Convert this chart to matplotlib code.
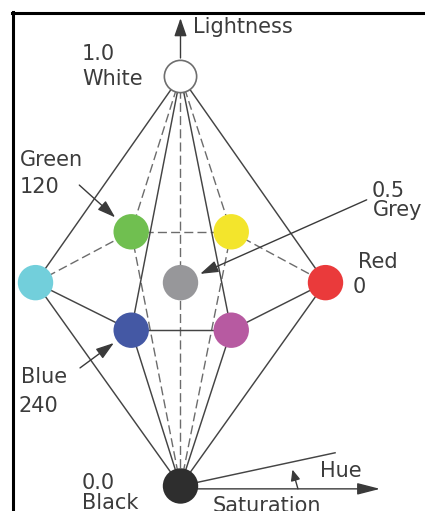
import matplotlib
matplotlib.use('Agg')
import matplotlib.pyplot as plt
from matplotlib.patches import FancyArrowPatch
from matplotlib.lines import Line2D

# HSL double hexcone, drawn in (hue plane x, lightness) coordinates.
# x: projected position in the hue plane (red = +1, cyan = -1)
# lightness: 0 black .. 1 white, depth: oblique offset of the back/front corners
names = ['White', 'Black', 'Grey', 'Red', 'Yellow', 'Green', 'Cyan', 'Blue', 'Magenta']
node_x = [0.0, 0.0, 0.0, 1.0, 0.35, -0.34, -1.0, -0.34, 0.35]
lightness = [1.0, 0.0, 0.5, 0.5, 0.5, 0.5, 0.5, 0.5, 0.5]
depth = [0.0, 0.0, -0.004, -0.004, 0.12, 0.12, -0.004, -0.12, -0.12]
colors = ['#ffffff', '#2e2e2e', '#97979a', '#ea3a3b', '#f3e52c',
          '#70bf50', '#72cfdb', '#4458a4', '#b75aa1']

solid_edges = [('White', 'Cyan'), ('White', 'Blue'), ('White', 'Magenta'), ('White', 'Red'),
               ('Black', 'Cyan'), ('Black', 'Blue'), ('Black', 'Magenta'), ('Black', 'Red'),
               ('Cyan', 'Blue'), ('Blue', 'Magenta'), ('Magenta', 'Red')]
dashed_edges = [('White', 'Green'), ('White', 'Yellow'), ('White', 'Black'),
                ('Black', 'Green'), ('Black', 'Yellow'),
                ('Cyan', 'Green'), ('Green', 'Yellow'), ('Yellow', 'Red')]

# hue line angle end point and saturation axis end (same coordinates)
hue_end = (1.066, 0.081)
sat_end = 1.376
sat_y = -0.007

pos = {n: (x, l + d) for n, x, l, d in zip(names, node_x, lightness, depth)}

ink = '#3c3c3c'
plt.rcParams['font.family'] = ['DejaVu Sans']
fs = 15

fig = plt.figure(figsize=(4.25, 5.11), dpi=100)
ax = fig.add_axes([0, 0, 1, 1])
ax.set_xlim(-1.2448, 1.6862)
ax.set_ylim(-0.061, 1.1854)
ax.axis('off')

# frame (top and left only)
fig.add_artist(Line2D([12 / 425, 1], [1 - 13.5 / 511] * 2, color='black', lw=2.2,
                      transform=fig.transFigure))
fig.add_artist(Line2D([13.5 / 425] * 2, [0, 1 - 12 / 511], color='black', lw=2.2,
                      transform=fig.transFigure))

for a, b in solid_edges:
    ax.plot([pos[a][0], pos[b][0]], [pos[a][1], pos[b][1]], color='#444444', lw=1.05, zorder=2)
for a, b in dashed_edges:
    ax.plot([pos[a][0], pos[b][0]], [pos[a][1], pos[b][1]], color='#6c6c6c', lw=1.0,
            dashes=(6.5, 3), zorder=1)

# hue and saturation
ax.plot([0, hue_end[0]], [pos['Black'][1], hue_end[1]], color='#444444', lw=1.05, zorder=2)


def arrow(p0, p1, hl, hw, shrink_b=0):
    ax.add_patch(FancyArrowPatch(p0, p1, arrowstyle='-|>', mutation_scale=1,
                                 shrinkA=0, shrinkB=shrink_b, color='#3a3a3a', lw=1.0,
                                 zorder=3))
    ax.patches[-1].set_arrowstyle('-|>', head_length=hl, head_width=hw)


arrow((0.0, sat_y), (sat_end, sat_y), 14, 3.6)
arrow((0.81, sat_y), (0.772, 0.040), 6.5, 2.8)
arrow((0.0, 1.044), (0.0, 1.141), 11, 3.8)

# pointers to Green, Blue, Grey
arrow((-0.698, 0.734), pos['Green'], 11, 3.6, 15.5)
arrow((-0.693, 0.288), pos['Blue'], 11, 3.6, 15.5)
arrow((1.284, 0.698), pos['Grey'], 11, 3.6, 15.5)

# nodes
for n, c in zip(names, colors):
    if n == 'White':
        ax.scatter(*pos[n], s=540, color=c, edgecolors='#6e6e6e', linewidths=1.2, zorder=5)
    else:
        ax.scatter(*pos[n], s=650, color=c, edgecolors='none', zorder=5)

labels = [
    ('Lightness', 0.086, 1.105), ('1.0', -0.679, 1.039), ('White', -0.679, 0.978),
    ('Green', -1.107, 0.780), ('120', -1.107, 0.715),
    ('0.5', 1.321, 0.706), ('Grey', 1.328, 0.659),
    ('Red', 1.224, 0.532), ('0', 1.19, 0.471),
    ('Blue', -1.102, 0.251), ('240', -1.115, 0.181),
    ('0.0', -0.679, -0.008), ('Black', -0.679, -0.056),
    ('Hue', 0.962, 0.022), ('Saturation', 0.224, -0.063),
]
for t, x, y in labels:
    ax.text(x, y, t, fontsize=fs, color=ink, ha='left', va='baseline', zorder=6)

fig.savefig('out.png', dpi=100)
